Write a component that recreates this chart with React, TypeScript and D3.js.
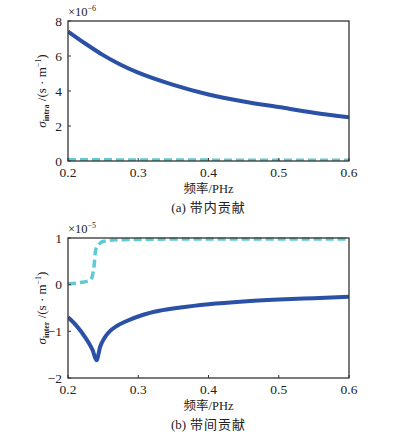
import React from 'react';
import * as d3 from 'd3';

// frequency (PHz) samples
const intraFreq = [0.2, 0.225, 0.25, 0.275, 0.3, 0.35, 0.4, 0.45, 0.5, 0.55, 0.6];
const intraBlue = [7.4, 6.7, 6.05, 5.5, 5.05, 4.35, 3.8, 3.4, 3.08, 2.76, 2.5];
const intraCyan = [0.08, 0.07, 0.07, 0.06, 0.06, 0.06, 0.05, 0.05, 0.05, 0.05, 0.05];

const interFreqBlue = [0.2, 0.211, 0.225, 0.235, 0.2405, 0.246, 0.252, 0.26, 0.27, 0.282, 0.306, 0.33, 0.36, 0.4, 0.45, 0.5, 0.55, 0.6];
const interBlue = [-0.7, -0.86, -1.14, -1.4, -1.62, -1.32, -1.14, -0.99, -0.88, -0.79, -0.65, -0.56, -0.49, -0.42, -0.36, -0.32, -0.29, -0.26];
const interFreqCyan = [0.2, 0.215, 0.232, 0.237, 0.2395, 0.245, 0.251, 0.268, 0.3, 0.4, 0.5, 0.6];
const interCyan = [0.02, 0.04, 0.1, 0.39, 0.75, 0.88, 0.93, 0.96, 0.97, 0.98, 0.98, 0.98];

const xTicks = [0.2, 0.3, 0.4, 0.5, 0.6];
const intraTicks = [0, 2, 4, 6, 8];
const interTicks = [-2, -1, 0, 1];

const BLUE = '#2b51a7';
const CYAN = '#5fcad3';
const serif = 'Liberation Serif, Times New Roman, serif';
const cjk = 'Noto Sans CJK SC, sans-serif';

type PanelProps = {
  top: number;
  bottom: number;
  domain: [number, number];
  ticks: number[];
  exponent: string;
  sub: string;
  caption: string;
  blue: [number[], number[]];
  cyan: [number[], number[]];
};

function Panel({top, bottom, domain, ticks, exponent, sub, caption, blue, cyan}: PanelProps) {
  const x = d3.scaleLinear().domain([0.2, 0.6]).range([68, 349]);
  const y = d3.scaleLinear().domain(domain).range([bottom, top]);
  const line = d3.line<[number, number]>()
      .x((d) => x(d[0]))
      .y((d) => y(d[1]))
      .curve(d3.curveMonotoneX);
  const pts = (s: [number[], number[]]) => s[0].map((f, i) => [f, s[1][i]] as [number, number]);
  const midY = (top + bottom) / 2;
  const midX = (x(0.2) + x(0.6)) / 2;
  const clipId = 'clip' + top;

  return (
    <g>
      <defs>
        <clipPath id={clipId}>
          <rect x={x(0.2)} y={top - 3} width={x(0.6) - x(0.2)} height={bottom - top + 3}/>
        </clipPath>
      </defs>
      <g clipPath={`url(#${clipId})`}>
        <path d={line(pts(blue)) || ''} fill="none" stroke={BLUE} strokeWidth={4}/>
        <path d={line(pts(cyan)) || ''} fill="none" stroke={CYAN} strokeWidth={3.5} strokeDasharray="8 4"/>
      </g>
      <rect x={x(0.2)} y={top} width={x(0.6) - x(0.2)} height={bottom - top}
        fill="none" stroke="#333" strokeWidth={1.3}/>
      {xTicks.map((t) => (
        <g key={'x' + t}>
          <line x1={x(t)} x2={x(t)} y1={bottom} y2={bottom - 3} stroke="#333"/>
          <text x={x(t)} y={bottom + 16} textAnchor="middle" style={{fontFamily: serif}} fontSize={13.5} fill="#222">
            {t.toFixed(1)}
          </text>
        </g>
      ))}
      {ticks.map((t) => (
        <g key={'y' + t}>
          <line x1={x(0.2)} x2={x(0.2) + 3} y1={y(t)} y2={y(t)} stroke="#333"/>
          <text x={62} y={y(t) + 4.5} textAnchor="end" style={{fontFamily: serif}} fontSize={13.5} fill="#222">
            {t < 0 ? '\u2212' + Math.abs(t) : t}
          </text>
        </g>
      ))}
      <text x={68} y={top - 5} style={{fontFamily: serif}} fontSize={12.5} fill="#222">
        ×10<tspan dy={-5} fontSize={8}>{exponent}</tspan>
      </text>
      <text transform={`translate(46,${midY}) rotate(-90)`} textAnchor="middle"
        style={{fontFamily: serif}} fontSize={13} fill="#222">
        <tspan fontStyle="italic">σ</tspan>
        <tspan dy={3} fontSize={8} fontWeight="bold">{sub}</tspan>
        <tspan dy={-3}> /(s · m</tspan>
        <tspan dy={-5} fontSize={8}>−1</tspan>
        <tspan dy={5}>)</tspan>
      </text>
      <text x={midX} y={bottom + 32} textAnchor="middle" fontSize={12.5} fill="#222">
        <tspan style={{fontFamily: cjk}}>频率</tspan>
        <tspan style={{fontFamily: serif}}>/PHz</tspan>
      </text>
      <text x={midX} y={bottom + 51} textAnchor="middle" fontSize={13} fill="#222">
        <tspan style={{fontFamily: serif}}>{caption.slice(0, 3)}</tspan>
        <tspan style={{fontFamily: cjk}} letterSpacing={1}>{caption.slice(3)}</tspan>
      </text>
    </g>
  );
}

export default function App() {
  return (
    <svg width={395} height={437} style={{position: 'absolute', left: 0, top: 0, background: '#fff', fontFamily: serif}}>
      <Panel top={21} bottom={161} domain={[0, 8]} ticks={intraTicks} exponent="−6" sub="intra"
        caption="(a) 带内贡献" blue={[intraFreq, intraBlue]} cyan={[intraFreq, intraCyan]}/>
      <Panel top={238} bottom={378} domain={[-2, 1]} ticks={interTicks} exponent="−5" sub="inter"
        caption="(b) 带间贡献" blue={[interFreqBlue, interBlue]} cyan={[interFreqCyan, interCyan]}/>
    </svg>
  );
}
